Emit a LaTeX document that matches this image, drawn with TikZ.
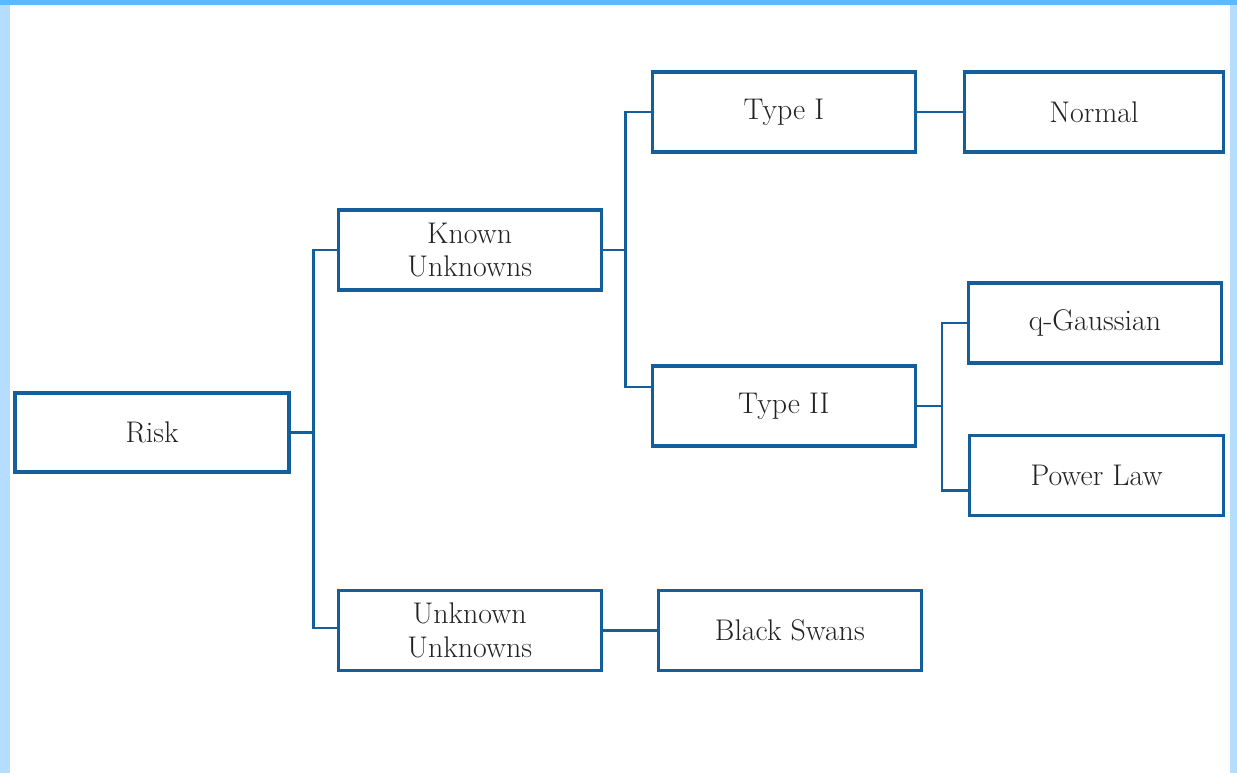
\documentclass[tikz,border=0pt]{standalone}
\usepackage{tikz}
\usetikzlibrary{positioning}
\definecolor{boxblue}{RGB}{20,94,156}
\definecolor{topbar}{RGB}{92,184,255}
\definecolor{sidebar}{RGB}{180,221,255}
\definecolor{inkgray}{RGB}{34,34,34}

\begin{document}
\begin{tikzpicture}[
		every text node part/.style={align=center},
		node distance=0.92cm,
		box/.style={draw=boxblue, line width=1.8pt, rectangle, inner sep=0pt,
			minimum width=5.26cm, minimum height=1.6cm,
			text=inkgray, font=\fontsize{17}{19}\selectfont},
		link/.style={draw=boxblue, line width=1.5pt}
	]
	% frame
	\useasboundingbox (0,0) rectangle (24.74,-15.46);
	\fill[topbar] (0,0) rectangle (24.74,-0.1);
	\fill[sidebar] (0,-0.1) rectangle (0.2,-15.46);
	\fill[sidebar] (24.6,-0.1) rectangle (24.74,-15.46);

	\node(risk)[box, minimum width=5.48cm, minimum height=1.58cm] at (3.04,-8.65) {Risk};
	\node(known)[box, right=of risk, yshift=3.65cm] {Known\\Unknowns};
	\node(unknown)[box, right=of risk, yshift=-3.96cm] {Unknown\\Unknowns};
	\node(typeI)[box, right=of known, xshift=0.04cm, yshift=2.76cm] {Type I};
	\node(typeII)[box, right=of known, xshift=0.04cm, yshift=-3.12cm] {Type II};
	\node(normal)[box, right=of typeI, minimum width=5.18cm] {Normal};
	\node(qgauss)[box, right=of typeII, xshift=0.08cm, yshift=1.66cm, minimum width=5.06cm] {q-Gaussian};
	\node(power)[box, right=of typeII, xshift=0.1cm, yshift=-1.39cm, minimum width=5.08cm] {Power Law};
	\node(swans)[box, right=of unknown, xshift=0.16cm] {Black Swans};

	\draw[link] (risk.east) -- ++(0.46,0) |- (known.west);
	\draw[link] (risk.east) -- ++(0.46,0) |- ([yshift=0.05cm]unknown.west);
	\draw[link] (known.east) -- ++(0.46,0) |- (typeI.west);
	\draw[link] (known.east) -- ++(0.46,0) |- ([yshift=0.38cm]typeII.west);
	\draw[link] (typeI) -- (normal);
	\draw[link] (typeII.east) -- ++(0.5,0) |- (qgauss.west);
	\draw[link] (typeII.east) -- ++(0.5,0) |- ([yshift=-0.3cm]power.west);
	\draw[link] (unknown) -- (swans);
\end{tikzpicture}
\end{document}
